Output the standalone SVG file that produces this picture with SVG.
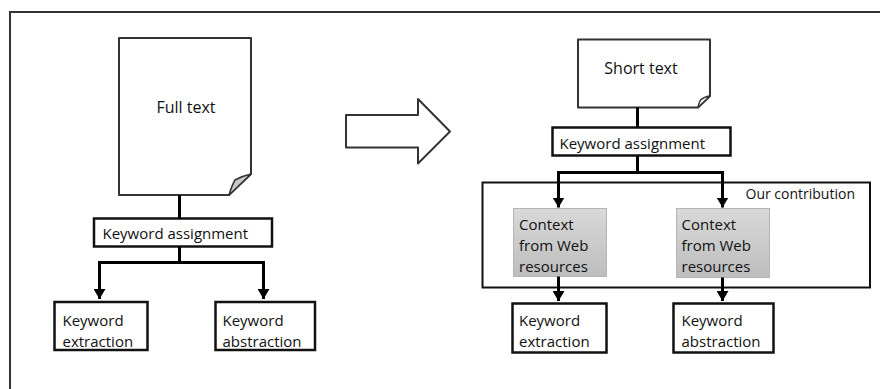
<svg xmlns="http://www.w3.org/2000/svg" width="880" height="389" viewBox="0 0 880 389">
<style>
  .doc { fill: #fff; stroke: #333; stroke-width: 2; stroke-linejoin: round; }
  .fold { stroke: #333; stroke-width: 1.5; stroke-linejoin: round; }
  .box { fill: #fff; stroke: #111; stroke-width: 2.5; }
  .gbox { fill: url(#gray); stroke: #b5b5b5; stroke-width: 1; }
  .frame { fill: none; stroke: #333; stroke-width: 2; }
  .conn { fill: none; stroke: #000; stroke-width: 3; }
  .arrow { fill: none; stroke: #000; stroke-width: 3; marker-end: url(#ah); }
  text { font-family: "Open Sans", "Liberation Sans", sans-serif; font-size: 15px; fill: #111; }
  .big { font-size: 16px; }
  .small { font-size: 14px; }
</style>
<defs>
  <linearGradient id="gray" x1="0" y1="0" x2="0" y2="1">
    <stop offset="0" stop-color="#d9d9d9"/>
    <stop offset="1" stop-color="#bdbdbd"/>
  </linearGradient>
  <marker id="ah" markerUnits="userSpaceOnUse" markerWidth="10" markerHeight="12" viewBox="0 0 10 12" refX="10" refY="6" orient="auto">
    <path d="M0,0 L10,6 L0,12 Z" fill="#000"/>
  </marker>
</defs>

<path class="frame" d="M10,392 V12 H884"/>

<g id="full-text">
  <path class="doc" d="M119,38 H251 V174 L229,195 H119 Z"/>
  <path class="fold" fill="#c8c8c8" d="M229,195 Q232,185 235,180 Q242,176 251,174 Z"/>
  <text class="big" x="186" y="113" text-anchor="middle">Full text</text>
</g>

<g id="kw-assign-left">
  <rect class="box" x="94" y="218.5" width="178" height="28"/>
  <text x="102.5" y="239">Keyword assignment</text>
</g>

<g id="kw-extraction-left">
  <rect class="box" x="54.5" y="302" width="93" height="48"/>
  <text x="62.5" y="326">Keyword</text>
  <text x="62.5" y="346.5">extraction</text>
</g>

<g id="kw-abstraction-left">
  <rect class="box" x="215.5" y="302" width="99.5" height="48"/>
  <text x="222.5" y="326">Keyword</text>
  <text x="222.5" y="346.5">abstraction</text>
</g>

<g id="big-arrow">
  <path class="doc" d="M346,115 H418 V99 L450,131.5 L418,163.5 V147.5 H346 Z"/>
</g>

<g id="short-text">
  <path class="doc" d="M578,39.5 H710 V96 L698,107.5 H578 Z"/>
  <path class="fold" fill="#f2f2f2" d="M698,107.5 Q699.5,101 701,99.5 Q704,97 710,96 Z"/>
  <text class="big" x="641" y="74" text-anchor="middle">Short text</text>
</g>

<g id="kw-assign-right">
  <rect class="box" x="552.5" y="127.5" width="178" height="28"/>
  <text x="559.5" y="149">Keyword assignment</text>
</g>

<g id="our-contribution">
  <rect class="box" x="482.5" y="182.5" width="387.5" height="105" style="stroke-width:2"/>
  <text class="small" x="745.5" y="199">Our contribution</text>
</g>

<g id="context-left">
  <rect class="gbox" x="513.5" y="208.5" width="93" height="68"/>
  <text x="519" y="230">Context</text>
  <text x="519" y="251">from Web</text>
  <text x="519" y="271.5">resources</text>
</g>

<g id="context-right">
  <rect class="gbox" x="676.5" y="208.5" width="93" height="69"/>
  <text x="681.5" y="230">Context</text>
  <text x="681.5" y="251">from Web</text>
  <text x="681.5" y="271.5">resources</text>
</g>

<g id="kw-extraction-right">
  <rect class="box" x="512.5" y="303.5" width="94" height="49"/>
  <text x="519" y="326">Keyword</text>
  <text x="519" y="346.5">extraction</text>
</g>

<g id="kw-abstraction-right">
  <rect class="box" x="673.5" y="303.5" width="100" height="49"/>
  <text x="681.5" y="326">Keyword</text>
  <text x="681.5" y="346.5">abstraction</text>
</g>

<g id="connectors">
  <line class="conn" x1="179.5" y1="195" x2="179.5" y2="218.5"/>
  <path class="conn" d="M179.5,246.5 V262.5"/>
  <path class="arrow" d="M99.5,298.5 V262.5 H263.5 V298.5" style="marker-end:none"/>
  <path class="arrow" d="M99.5,262.5 V299"/>
  <path class="arrow" d="M263.5,262.5 V299"/>

  <line class="conn" x1="637.5" y1="107.5" x2="637.5" y2="127.5"/>
  <path class="conn" d="M637.5,155.5 V172.5"/>
  <path class="conn" d="M558.5,196 V172.5 H722.5 V196"/>
  <path class="arrow" d="M558.5,190 V207.5"/>
  <path class="arrow" d="M722.5,190 V207.5"/>
  <path class="arrow" d="M558.5,276.5 V301"/>
  <path class="arrow" d="M722.5,277.5 V301"/>
</g>
</svg>
